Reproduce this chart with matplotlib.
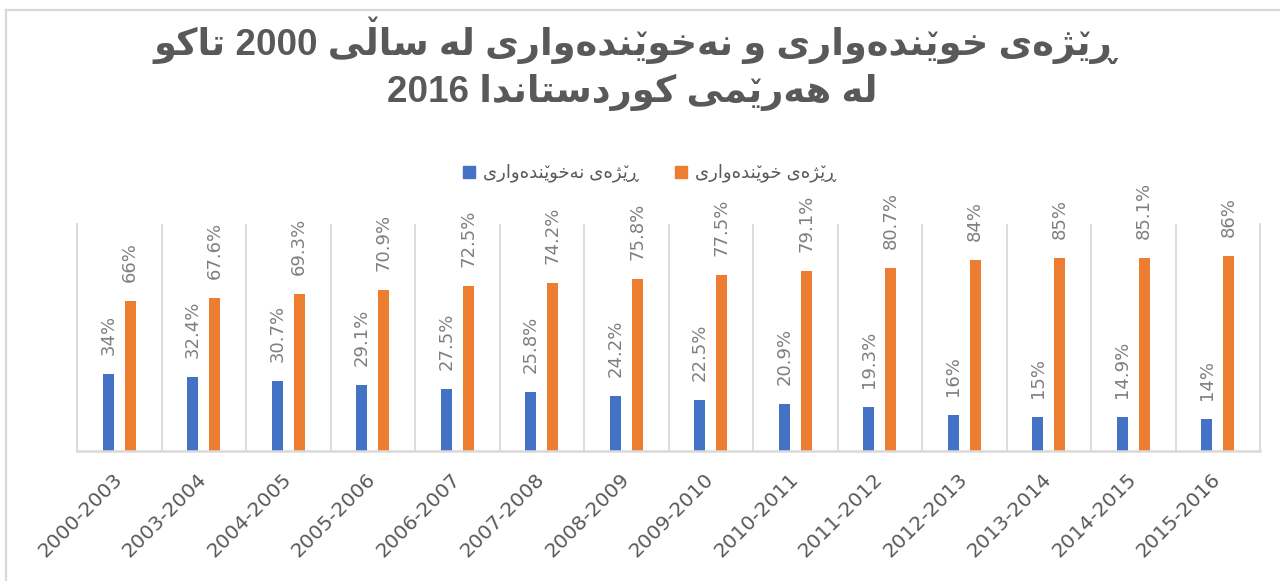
import numpy as np
import matplotlib
matplotlib.use('Agg')
import matplotlib.pyplot as plt
from matplotlib.patches import Rectangle
from matplotlib.lines import Line2D

# data
years = ['2000-2003', '2003-2004', '2004-2005', '2005-2006', '2006-2007',
         '2007-2008', '2008-2009', '2009-2010', '2010-2011', '2011-2012',
         '2012-2013', '2013-2014', '2014-2015', '2015-2016']
illiteracy = [34, 32.4, 30.7, 29.1, 27.5, 25.8, 24.2, 22.5, 20.9, 19.3, 16, 15, 14.9, 14]
literacy = [66, 67.6, 69.3, 70.9, 72.5, 74.2, 75.8, 77.5, 79.1, 80.7, 84, 85, 85.1, 86]

title_line1 = 'ڕێژەی خوێندەواری و نەخوێندەواری لە ساڵی 2000 تاکو'
title_line2 = '2016 لە هەرێمی کوردستاندا'
name_illiteracy = 'ڕێژەی نەخوێندەواری'
name_literacy = 'ڕێژەی خوێندەواری'

# arabic shaping by hand (matplotlib has no text shaping)
# forms: isolated, final, initial, medial
DUAL = {
    '\u062A': ['\uFE95', '\uFE96', '\uFE97', '\uFE98'],
    '\u062E': ['\uFEA5', '\uFEA6', '\uFEA7', '\uFEA8'],
    '\u0633': ['\uFEB1', '\uFEB2', '\uFEB3', '\uFEB4'],
    '\u0644': ['\uFEDD', '\uFEDE', '\uFEDF', '\uFEE0'],
    '\u0645': ['\uFEE1', '\uFEE2', '\uFEE3', '\uFEE4'],
    '\u0646': ['\uFEE5', '\uFEE6', '\uFEE7', '\uFEE8'],
    '\u0647': ['\uFEE9', '\uFEEA', '\uFEEB', '\uFEEC'],
    '\u06CC': ['\uFBFC', '\uFBFD', '\uFBFE', '\uFBFF'],
    '\u06A9': ['\uFB8E', '\uFB8F', '\uFB90', '\uFB91'],
}
RIGHT = {
    '\u0627': ['\uFE8D', '\uFE8E'],
    '\u062F': ['\uFEA9', '\uFEAA'],
    '\u0631': ['\uFEAD', '\uFEAE'],
    '\u0695': ['\u0695', '\u0695'],
    '\u0698': ['\uFB8A', '\uFB8B'],
    '\u0648': ['\uFEED', '\uFEEE'],
    '\u06D5': ['\uFEE9', '\uFEEA'],
}
# letters with a small v: joined like their base letter, v drawn on top afterwards
MARKED = {'\u06CE': '\u06CC', '\u06B5': '\u0644'}


def shape(text):
    pieces = []
    for i, ch in enumerate(text):
        prev = text[i - 1] if i > 0 else ''
        nxt = text[i + 1] if i + 1 < len(text) else ''
        base = MARKED.get(ch, ch)
        prev = MARKED.get(prev, prev)
        nxt = MARKED.get(nxt, nxt)
        mark = False
        if base in DUAL:
            jp = prev in DUAL
            jn = nxt in DUAL or nxt in RIGHT
            idx = 3 if (jp and jn) else 1 if jp else 2 if jn else 0
            if ch in MARKED and idx < 2:
                g = ch
            else:
                g = DUAL[base][idx]
                mark = ch in MARKED
        elif base in RIGHT:
            g = RIGHT[base][1 if prev in DUAL else 0]
        else:
            g = ch
        pieces.append([g, mark])
    # keep digit runs together
    runs = []
    for g, m in pieces:
        if runs and g.isdigit() and runs[-1][0][-1].isdigit():
            runs[-1][0] += g
        else:
            runs.append([g, m])
    # a number at the start of the line stays on the left (ltr paragraph)
    lead = []
    if runs and runs[0][0].isdigit():
        lead.append(runs.pop(0))
        if runs and runs[0][0] == ' ':
            lead.append(runs.pop(0))
    return lead + runs[::-1]


blue = '#4472C4'
orange = '#ED7D31'
grey_text = '#595959'
grid_col = '#D9D9D9'
fonts = ['Liberation Sans', 'DejaVu Sans']

fig = plt.figure(figsize=(12.8, 5.81), dpi=100)
W, H = 1280, 581
renderer = fig.canvas.get_renderer()


def rtl_text(xpx, ypx, text, size, weight='normal', ha='center'):
    # ypx is the baseline, in pixels from the top
    pieces = shape(text)
    s = ''.join(p[0] for p in pieces)
    t = fig.text(xpx / W, 1 - ypx / H, s, fontsize=size, fontweight=weight,
                 family=fonts, color=grey_text, ha=ha, va='baseline')
    prop = t.get_fontproperties()
    x0 = t.get_window_extent(renderer).x0
    em = size * fig.dpi / 72
    for i, (g, m) in enumerate(pieces):
        if not m:
            continue
        upto = ''.join(p[0] for p in pieces[:i + 1])
        w_upto = renderer.get_text_width_height_descent(upto, prop, ismath=False)[0]
        w_g = renderer.get_text_width_height_descent(g, prop, ismath=False)[0]
        xc = x0 + w_upto - w_g / 2
        lift = 0.92 if g in DUAL['\u0644'] else 0.52
        csize = size * 0.75
        yb = (H - ypx) + lift * em - 0.68 * csize * fig.dpi / 72
        fig.text(xc / W, yb / H, '\u02C7', fontsize=csize, fontweight='bold',
                 color=grey_text, ha='center', va='baseline')


ax = fig.add_axes([77 / W, 1 - 451 / H, (1260 - 77) / W, (451 - 224) / H])

x = np.arange(len(years))
w = 0.135
b1 = ax.bar(x - 0.13, illiteracy, w, color=blue)
b2 = ax.bar(x + 0.13, literacy, w, color=orange)

for bars, vals in [(b1, illiteracy), (b2, literacy)]:
    for r, v in zip(bars, vals):
        ax.annotate(f'{v:g}%', (r.get_x() + r.get_width() / 2, r.get_height()),
                    xytext=(0, 19), textcoords='offset pixels', rotation=90,
                    ha='center', va='bottom', fontsize=13, color='#7F7F7F')

ax.set_xlim(-0.5, len(years) - 0.5)
ax.set_ylim(0, 100)
ax.set_yticks([])
ax.set_xticks(x)
ax.set_xticklabels(years, rotation=45, ha='right', va='center',
                   rotation_mode='anchor', fontsize=14.5, color=grey_text)
ax.tick_params(axis='x', length=0, pad=18)
ax.set_xticks(np.arange(len(years) + 1) - 0.5, minor=True)
ax.tick_params(axis='x', which='minor', length=0)
ax.grid(which='minor', axis='x', color=grid_col, linewidth=1.3)
ax.spines['top'].set_visible(False)
for s in ['left', 'right', 'bottom']:
    ax.spines[s].set_color(grid_col)
ax.spines['bottom'].set_linewidth(1.8)
ax.spines['left'].set_linewidth(1.3)
ax.spines['right'].set_linewidth(1.3)

# title
rtl_text(635, 55, title_line1, 26.5, 'bold')
rtl_text(632, 102, title_line2, 26.5, 'bold')

# legend, drawn by hand
fig.add_artist(Rectangle((463 / W, 1 - 178 / H), 12 / W, 12 / H, color=blue,
                         transform=fig.transFigure))
rtl_text(483, 177, name_illiteracy, 13, ha='left')
fig.add_artist(Rectangle((675 / W, 1 - 178 / H), 12 / W, 12 / H, color=orange,
                         transform=fig.transFigure))
rtl_text(695, 177, name_literacy, 13, ha='left')

# chart frame (cropped at right and bottom)
fig.add_artist(Line2D([6 / W, 6 / W], [0, 1 - 10 / H], color=grid_col, lw=1.6))
fig.add_artist(Line2D([6 / W, 1], [1 - 10 / H, 1 - 10 / H], color=grid_col, lw=1.6))

plt.savefig('out.png', dpi=100)
